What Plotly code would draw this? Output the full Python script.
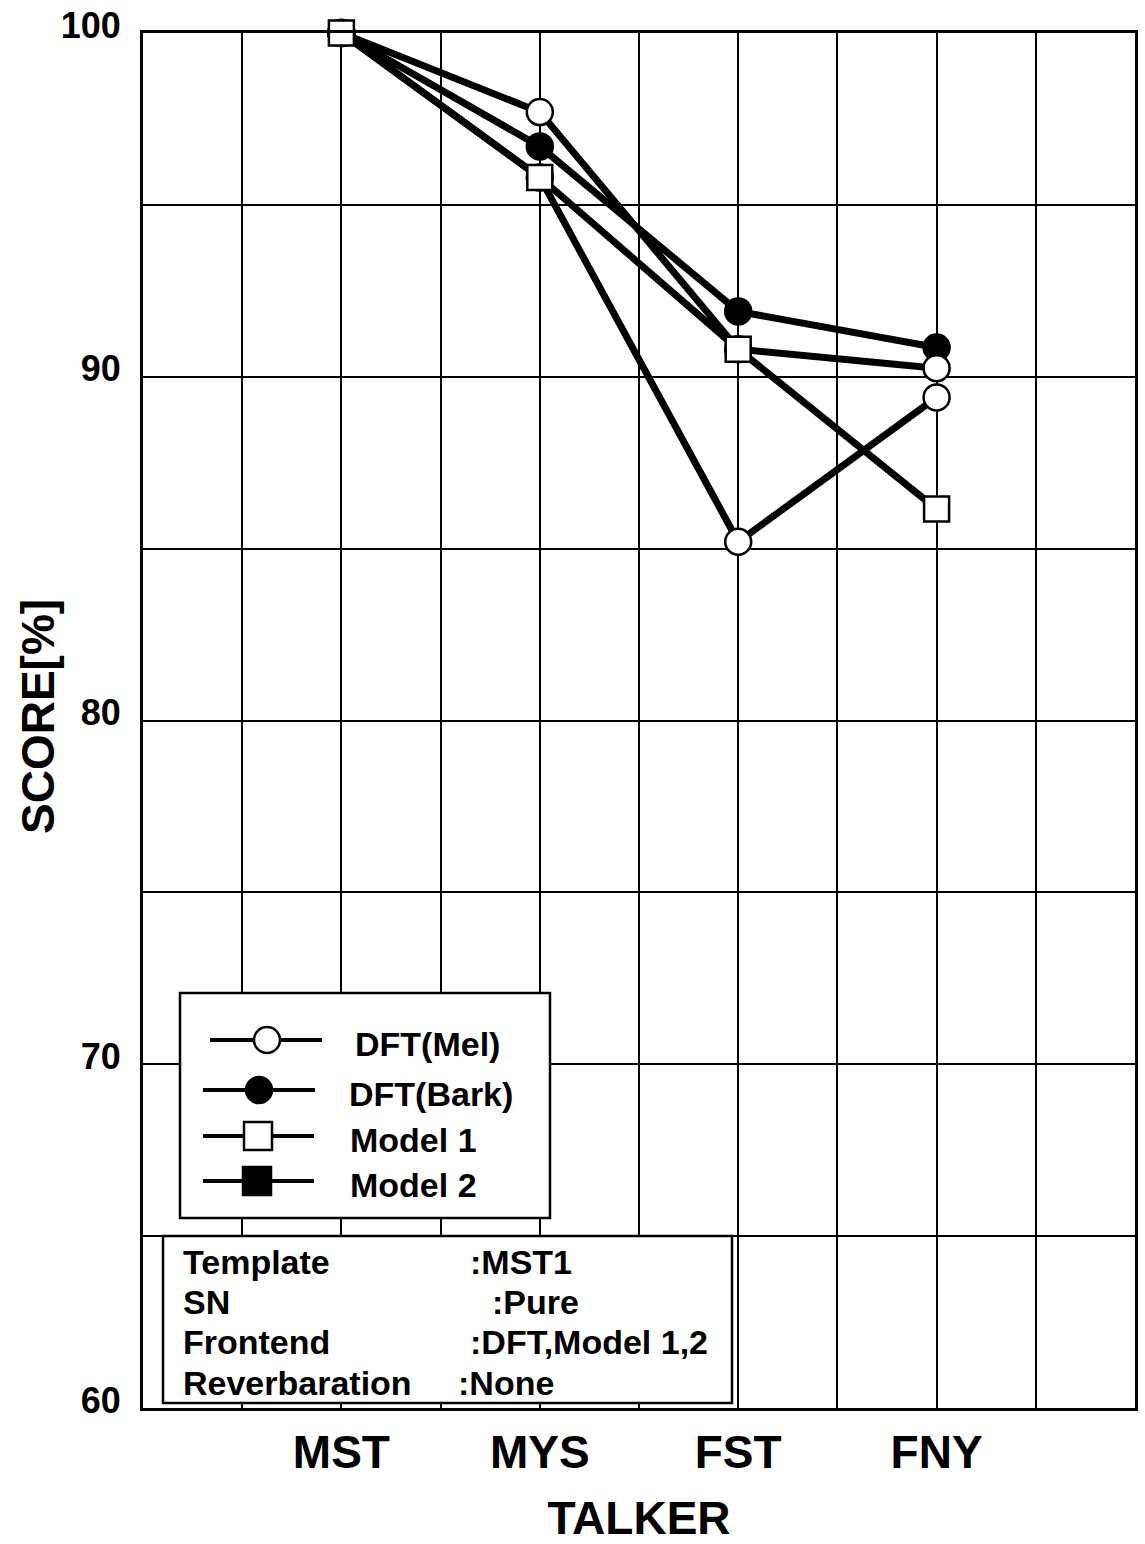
import plotly.graph_objects as go

# ---------------- data ----------------
talkers = ["MST", "MYS", "FST", "FNY"]
dft_mel = [100, 97.7, 90.8, 90.25]
dft_bark = [100, 96.7, 91.9, 90.85]
model1 = [100, 95.8, 90.8, 86.15]
model2 = [100, 95.8, 85.2, 89.4]
y_tick_vals = [60, 70, 80, 90, 100]
legend_names = ["DFT(Mel)", "DFT(Bark)", "Model 1", "Model 2"]
info_keys = ["Template", "SN", "Frontend", "Reverbaration"]
info_vals = [":MST1", ":Pure", ":DFT,Model 1,2", ":None"]
y_title = "SCORE[%]"
x_title = "TALKER"

# ---------------- layout constants ----------------
W, H = 1145, 1544
PLOT_L, PLOT_R, PLOT_T, PLOT_B = 143, 1135, 33, 1408   # in page pixels
L, T = PLOT_L, PLOT_T
R, B = W - PLOT_R, H - PLOT_B
PW = PLOT_R - PLOT_L
PH = PLOT_B - PLOT_T
FONT = "Liberation Sans, Arial, Helvetica, sans-serif"
BLACK = "#000000"


def px_x(p):
    return (p - PLOT_L) / PW


def px_y(p):
    return (PLOT_B - p) / PH


xs = list(range(len(talkers)))

fig = go.Figure()

# lines first (all series), then markers, so markers sit on top
line_series = [dft_bark, dft_mel, model2, model1]
for vals in line_series:
    fig.add_trace(go.Scatter(x=xs, y=vals, mode="lines",
                             line=dict(color=BLACK, width=7),
                             cliponaxis=False,
                             showlegend=False, hoverinfo="skip"))

marker_series = [
    ("DFT(Bark)", dft_bark, "circle", BLACK),
    ("DFT(Mel)", dft_mel, "circle", "white"),
    ("Model 2", model2, "circle", "white"),
    ("Model 1", model1, "square", "white"),
]
for name, vals, sym, fill in marker_series:
    fig.add_trace(go.Scatter(x=xs, y=vals, mode="markers", name=name,
                             cliponaxis=False,
                             marker=dict(symbol=sym, size=26 if sym == "circle" else 25,
                                         color=fill,
                                         line=dict(color=BLACK, width=2.5)),
                             showlegend=False))

shapes = []
annotations = []

# legend box
shapes.append(dict(type="rect", xref="paper", yref="paper", layer="above",
                   x0=px_x(180), x1=px_x(550), y0=px_y(1218), y1=px_y(993),
                   line=dict(color=BLACK, width=2.5), fillcolor="white"))
leg_rows = [
    # (line x0, line x1, marker cx, row y, text x, kind)
    (210, 322, 267, 1040, 353, "open_circle"),
    (203, 315, 259, 1090, 347, "filled_circle"),
    (203, 314, 258, 1136, 348, "open_square"),
    (203, 314, 257, 1181, 348, "filled_square"),
]
for (lx0, lx1, cx, cy, tx, kind), nm in zip(leg_rows, legend_names):
    shapes.append(dict(type="line", xref="paper", yref="paper", layer="above",
                       x0=px_x(lx0), x1=px_x(lx1), y0=px_y(cy), y1=px_y(cy),
                       line=dict(color=BLACK, width=4)))
    r = 13 if "circle" in kind else 14
    fill = BLACK if kind.startswith("filled") else "white"
    shapes.append(dict(type="circle" if "circle" in kind else "rect",
                       xref="paper", yref="paper", layer="above",
                       x0=px_x(cx - r), x1=px_x(cx + r),
                       y0=px_y(cy + r), y1=px_y(cy - r),
                       line=dict(color=BLACK, width=2.5), fillcolor=fill))
    annotations.append(dict(xref="paper", yref="paper", x=px_x(tx), y=px_y(cy + 4),
                            xanchor="left", yanchor="middle", showarrow=False,
                            text=nm, font=dict(family=FONT, size=34, weight="bold", color=BLACK)))

# info box
shapes.append(dict(type="rect", xref="paper", yref="paper", layer="above",
                   x0=px_x(163), x1=px_x(732), y0=px_y(1403), y1=px_y(1236),
                   line=dict(color=BLACK, width=2.5), fillcolor="white"))
info_rows_y = [1262, 1302, 1342, 1383]
info_val_x = [468, 490, 468, 456]
for k, v, ry, vx in zip(info_keys, info_vals, info_rows_y, info_val_x):
    annotations.append(dict(xref="paper", yref="paper", x=px_x(181), y=px_y(ry),
                            xanchor="left", yanchor="middle", showarrow=False,
                            text=k, font=dict(family=FONT, size=34, weight="bold", color=BLACK)))
    annotations.append(dict(xref="paper", yref="paper", x=px_x(vx), y=px_y(ry),
                            xanchor="left", yanchor="middle", showarrow=False,
                            text=v, font=dict(family=FONT, size=34, weight="bold", color=BLACK)))

# y-axis title, placed as a rotated annotation
annotations.append(dict(xref="paper", yref="paper", x=px_x(38), y=px_y(717),
                        xanchor="center", yanchor="middle", showarrow=False,
                        textangle=-90, text=y_title,
                        font=dict(family=FONT, size=46, weight="bold", color=BLACK)))

grid = dict(showgrid=True, gridcolor=BLACK, gridwidth=2)

fig.update_layout(
    width=W, height=H,
    margin=dict(l=L, r=R, t=T, b=B, autoexpand=False),
    paper_bgcolor="white", plot_bgcolor="white",
    showlegend=False,
    shapes=shapes, annotations=annotations,
    font=dict(family=FONT, color=BLACK),
    xaxis=dict(range=[-1, 4], tickvals=xs, ticktext=talkers, ticks="",
               automargin=False,
               **grid,
               minor=dict(dtick=0.5, tick0=0, showgrid=True, gridcolor=BLACK, gridwidth=2),
               showline=True, linecolor=BLACK, linewidth=3, mirror=True,
               zeroline=False,
               tickfont=dict(family=FONT, size=46, weight="bold", color=BLACK),
               ticklabelstandoff=2,
               title=dict(text=x_title, standoff=29,
                          font=dict(family=FONT, size=46, weight="bold", color=BLACK))),
    yaxis=dict(range=[60, 100], tickvals=y_tick_vals, ticks="",
               automargin=False,
               **grid,
               minor=dict(dtick=5, tick0=60, showgrid=True, gridcolor=BLACK, gridwidth=2),
               showline=True, linecolor=BLACK, linewidth=3, mirror=True,
               zeroline=False,
               tickfont=dict(family=FONT, size=36, weight="bold", color=BLACK),
               ticklabelstandoff=12, ticklabelshift=-8,
               ticklabeloverflow="allow"),
)

fig.write_html("out.html", config={"displayModeBar": False},
               post_script="document.body.style.margin='0';document.body.style.padding='0';")
